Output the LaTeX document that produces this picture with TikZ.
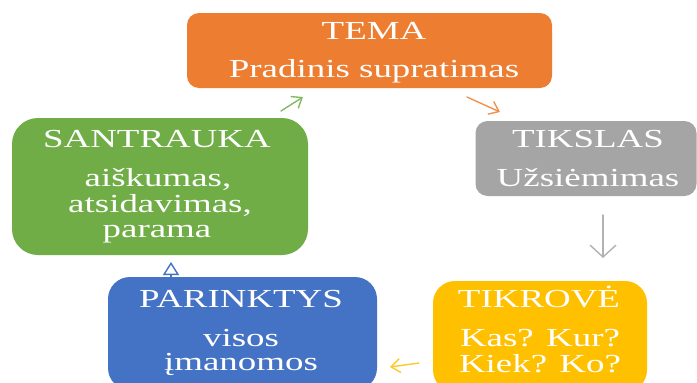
\documentclass[tikz,border=0pt]{standalone}
\usepackage{fontspec}
\setmainfont{Liberation Serif}
\newfontfamily\fontA{Liberation Serif}[FakeStretch=1.42]
\usetikzlibrary{arrows.meta}
\definecolor{cOrange}{HTML}{ED7D31}
\definecolor{cGreen}{HTML}{70AD47}
\definecolor{cGray}{HTML}{A5A5A5}
\definecolor{cYellow}{HTML}{FFC000}
\definecolor{cBlue}{HTML}{4472C4}
\tikzset{
  box/.style={draw=none, inner sep=0pt},
  lbl/.style={text=white, inner sep=0pt, anchor=base, font=\fontA\fontsize{26}{30}\selectfont},
  conn/.style={line width=1.4pt, line cap=round, -{Straight Barb[length=9pt, width=14pt, line width=1.4pt]}},
}
\begin{document}
\begin{tikzpicture}[x=1pt, y=-1pt]
\useasboundingbox (0,0) rectangle (697,383);
\clip (0,0) rectangle (697,383);
\fill[white] (0,0) rectangle (697,383);
% boxes
\node[box, fill=cOrange, rounded corners=12pt, minimum width=365pt, minimum height=75pt] (tema) at (369.5,50.5) {};
\node[box, fill=cGreen, rounded corners=26pt, minimum width=296pt, minimum height=137pt] (santr) at (160,186.5) {};
\node[box, fill=cGray, rounded corners=12pt, minimum width=221pt, minimum height=75pt] (tiks) at (586,158.5) {};
\node[box, fill=cBlue, rounded corners=22pt, minimum width=269pt, minimum height=113pt] (parin) at (242.5,333.5) {};
\node[box, fill=cYellow, rounded corners=22pt, minimum width=214pt, minimum height=111pt] (tikr) at (540,336.5) {};
% texts
\node[lbl] (t1) at (374,39) {TEMA};
\node[lbl] (t2) at (374,77) {Pradinis supratimas};
\node[lbl] (k1) at (588,147) {TIKSLAS};
\node[lbl] (k2) at (588,186) {Užsiėmimas};
\node[lbl] (s1) at (157,147) {SANTRAUKA};
\node[lbl] (s2) at (158,186) {aiškumas,};
\node[lbl] (s3) at (160,212) {atsidavimas,};
\node[lbl] (s4) at (157,237) {parama};
\node[lbl] (r1) at (539,307) {TIKROVĖ};
\node[lbl] (r2) at (540,346) {Kas? Kur?};
\node[lbl] (r3) at (540,372) {Kiek? Ko?};
\node[lbl] (p1) at (241,307) {PARINKTYS};
\node[lbl] (p2) at (241,346) {visos};
\node[lbl] (p3) at (241,370) {įmanomos};
% arrow end points
\coordinate (gA) at (281,111); \coordinate (gB) at (303,97);
\coordinate (oA) at (467,97);  \coordinate (oB) at (500,112);
\coordinate (yA) at (603,215); \coordinate (yB) at (603,258);
\coordinate (wA) at (419,363); \coordinate (wB) at (390,367);
\coordinate (bA) at (171,279); \coordinate (bB) at (171,262);
% arrows
\draw[conn, cGreen!85] (gA) -- (gB);
\draw[conn, cOrange!85] (oA) -- (oB);
\draw[conn, cGray!85, -{Straight Barb[length=12pt, width=26pt, line width=1.4pt]}] (yA) -- (yB);
\draw[conn, cYellow!85] (wA) -- (wB);
\draw[line width=1.4pt, cBlue, -{Triangle[open, length=13pt, width=16pt, line width=1.4pt]}] (bA) -- (bB);
\end{tikzpicture}
\end{document}
